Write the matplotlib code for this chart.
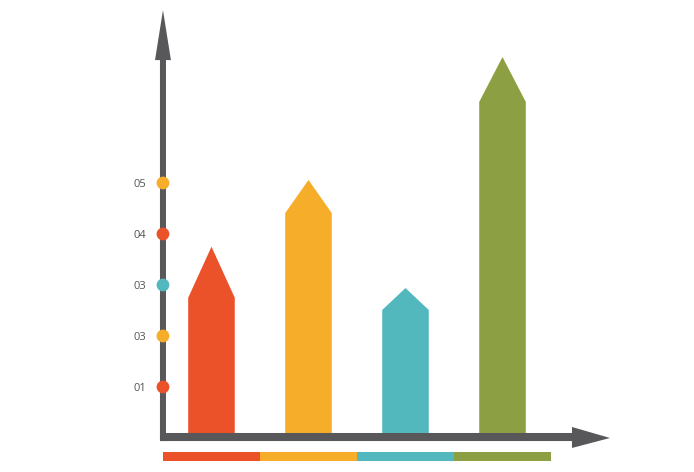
import matplotlib.pyplot as plt
import numpy as np

# chart data
colors = ["#EB5229", "#F5AD2A", "#53B8BD", "#8CA043"]
bar_values = [2.75, 4.41, 2.51, 6.59]   # top of the bar body
tip_values = [3.75, 5.06, 2.94, 7.47]   # top of the arrow head
tick_values = [1, 2, 3, 4, 5]
tick_labels = ["01", "03", "03", "04", "05"]
tick_colors = ["#EB5229", "#F5AD2A", "#53B8BD", "#EB5229", "#F5AD2A"]
gray = "#58585A"

fig = plt.figure(figsize=(6.94, 4.72), dpi=100)
ax = fig.add_axes([0, 0, 1, 1])
ax.set_xlim(-2.180, 4.974)
ax.set_ylim(-0.667, 8.588)
ax.axis("off")

# arrow-shaped bars
w = 0.24
for i, (v, t, c) in enumerate(zip(bar_values, tip_values, colors)):
    ax.fill([i - w, i + w, i + w, i, i - w], [0, 0, v, t, v], color=c, lw=0)

# y axis with arrow head
ax.fill([-0.531, -0.469, -0.469, -0.418, -0.5, -0.582, -0.531],
        [-0.06, -0.06, 7.41, 7.41, 8.39, 7.41, 7.41], color=gray, lw=0)
# x axis with arrow head
ax.fill([-0.531, 3.716, 3.716, 4.108, 3.716, 3.716, -0.531],
        [-0.06, -0.06, -0.196, 0.0, 0.216, 0.098, 0.098], color=gray, lw=0)

# dots and labels on the y axis
ax.scatter([-0.5] * len(tick_values), tick_values, s=85, c=tick_colors,
           zorder=3, lw=0)
for v, lab in zip(tick_values, tick_labels):
    ax.text(-0.675, v, lab, ha="right", va="center_baseline", fontsize=8,
            family="Open Sans", color="#555555")

# colour strip under the axis
for i, c in enumerate(colors):
    ax.fill([i - 0.5, i + 0.5, i + 0.5, i - 0.5],
            [-0.27, -0.27, -0.45, -0.45], color=c, lw=0)

fig.savefig("out.png", dpi=100)
